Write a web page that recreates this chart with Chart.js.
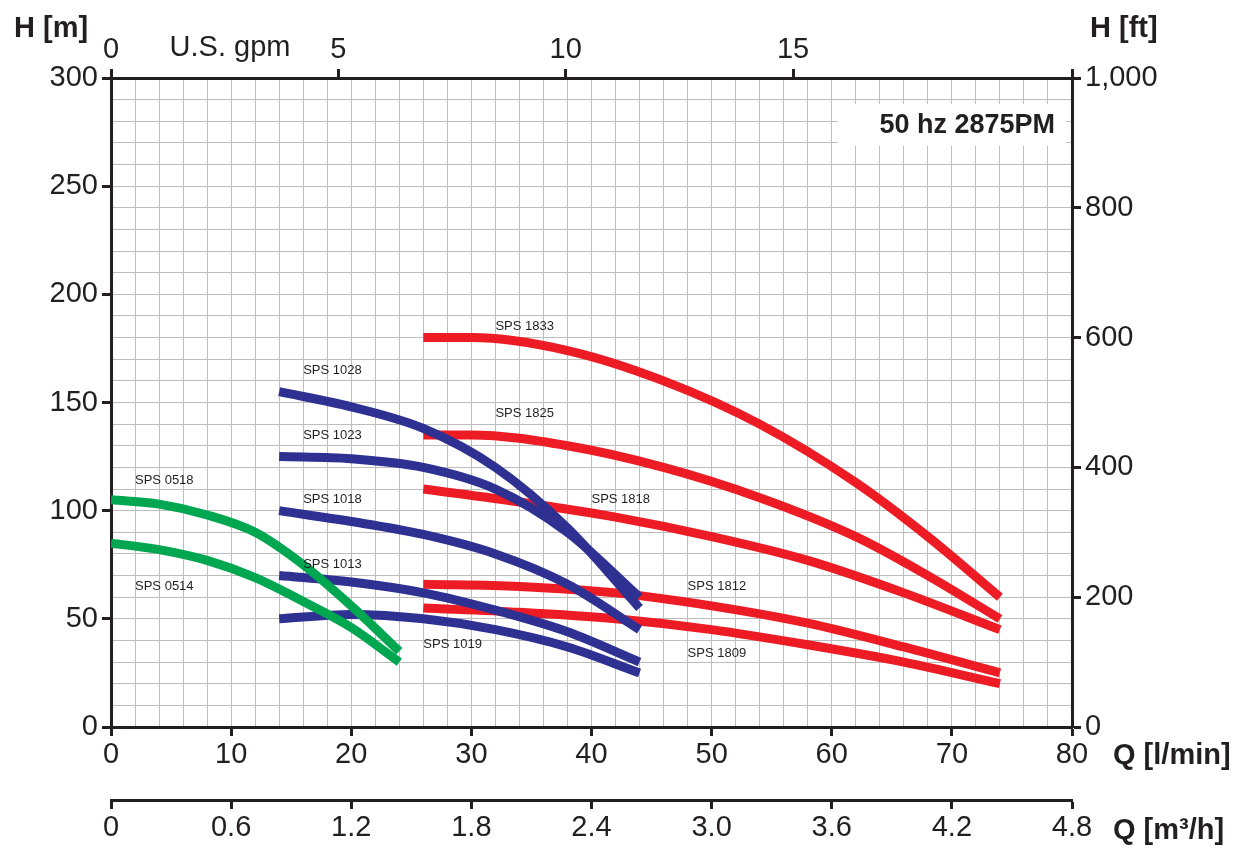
<!DOCTYPE html>
<html>
<head>
<meta charset="utf-8">
<script src="https://cdn.jsdelivr.net/npm/chart.js@4"></script>
<style>
  body { margin: 0; background: #fff; }
  canvas { display: block; }
</style>
</head>
<body>
<canvas id="c" width="1250" height="863"></canvas>
<script>
// flow in l/min, head in m
const q05 = [0, 4, 8, 12, 16, 20, 24];
const q10 = [14, 20, 26, 32, 38, 44];
const q18 = [26, 30, 38, 46, 54, 62, 68, 74];
const q18b = [26, 34, 42, 50, 58, 66, 74];

const h0518 = [105, 103, 98, 90, 75, 56, 35];
const h0514 = [85, 82, 77, 69, 58, 46, 30];
const h1028 = [155, 148, 138, 120, 92, 55];
const h1023 = [125, 124, 120, 110, 90, 60];
const h1018 = [100, 95, 89, 80, 66, 45];
const h1013 = [70, 67, 62, 54, 44, 30];
const h1019 = [50, 52, 50, 45, 37, 25];
const h1833 = [180, 180, 174, 160, 140, 113, 88, 60];
const h1825 = [135, 135, 130, 120, 106, 88, 70, 50];
const h1818 = [110, 104, 97, 88, 77, 62, 45];
const h1812 = [66, 65, 62, 56, 48, 37, 25];
const h1809 = [55, 53, 50, 45, 38, 30, 20];

// curve names with label anchor (Q, H)
const curveNames = ["SPS 0518", "SPS 0514", "SPS 1028", "SPS 1023", "SPS 1018", "SPS 1013", "SPS 1019",
                    "SPS 1833", "SPS 1825", "SPS 1818", "SPS 1812", "SPS 1809"];
const labelQ = [2, 2, 16, 16, 16, 16, 26, 32, 32, 40, 48, 48];
const labelH = [114, 65, 165, 135, 105, 75, 38, 185, 145, 105, 65, 34];

const GREEN = "#00a650", BLUE = "#2e3192", RED = "#ed1c24";
const FONT = "'Liberation Sans', Arial, sans-serif";
const INK = "#231f20";

const pts = (qs, hs) => qs.map((q, i) => ({ x: q, y: hs[i] }));
const ds = (qs, hs, color) => ({
    data: pts(qs, hs),
    borderColor: color,
    borderWidth: 9,
    pointRadius: 0,
    fill: false,
    cubicInterpolationMode: "monotone",
    borderCapStyle: "butt",
});

const datasets = [
    ds(q05, h0518, GREEN), ds(q05, h0514, GREEN),
    ds(q10, h1028, BLUE), ds(q10, h1023, BLUE), ds(q10, h1018, BLUE),
    ds(q10, h1013, BLUE), ds(q10, h1019, BLUE),
    ds(q18, h1833, RED), ds(q18, h1825, RED),
    ds(q18b, h1818, RED), ds(q18b, h1812, RED), ds(q18b, h1809, RED),
];

// ─── text overlay: curve names, axis titles, rpm box ───────────────
const Overlay = {
    id: "overlay",
    afterDatasetsDraw(chart) {
        const { ctx, scales } = chart;
        ctx.save();
        ctx.fillStyle = INK;
        ctx.font = "13px " + FONT;
        ctx.textAlign = "left";
        ctx.textBaseline = "middle";
        curveNames.forEach((n, i) => {
            ctx.fillText(n, scales.x.getPixelForValue(labelQ[i]), scales.y.getPixelForValue(labelH[i]));
        });

        ctx.fillStyle = "#fff";
        ctx.fillRect(838, 104, 228, 42);
        ctx.fillStyle = INK;
        ctx.font = "bold 27px " + FONT;
        ctx.textAlign = "right";
        ctx.fillText("50 hz 2875PM", 1055, 126);

        ctx.font = "bold 29px " + FONT;
        ctx.textAlign = "left";
        ctx.fillText("H [m]", 14, 29);
        ctx.fillText("H [ft]", 1090, 29);
        ctx.fillText("Q [l/min]", 1113, 756);
        ctx.fillText("Q [m\u00b3/h]", 1113, 831);

        ctx.font = "29px " + FONT;
        ctx.textAlign = "center";
        ctx.fillText("U.S. gpm", 230, 48);
        ctx.restore();
    },
};

const tickFont = { family: FONT, size: 29 };
const border = { color: INK, width: 3 };

new Chart(document.getElementById("c"), {
    type: "line",
    data: { datasets },
    plugins: [Overlay],
    options: {
        responsive: false,
        animation: false,
        devicePixelRatio: 1,
        layout: { padding: 0 },
        plugins: { legend: { display: false }, tooltip: { enabled: false } },
        scales: {
            x: {
                type: "linear", position: "bottom", min: 0, max: 80, weight: 0,
                border,
                grid: {
                    color: "#bdbdbd", lineWidth: 1, tickLength: 9,
                    tickColor: c => (c.tick && c.tick.value % 10 === 0 ? INK : "rgba(0,0,0,0)"),
                    tickWidth: 3,
                },
                ticks: {
                    stepSize: 2, autoSkip: false, maxRotation: 0, color: INK, font: tickFont, padding: 2,
                    callback: v => (v % 10 === 0 ? String(v) : ""),
                },
                afterFit: s => { s.height = 73; },
            },
            x3: {
                type: "linear", position: "bottom", min: 0, max: 4.8, weight: 1,
                border,
                grid: { drawOnChartArea: false, tickLength: 9, tickColor: INK, tickWidth: 3 },
                ticks: {
                    stepSize: 0.6, autoSkip: false, maxRotation: 0, color: INK, font: tickFont, padding: 2,
                    callback: v => (v === 0 ? "0" : v.toFixed(1)),
                },
                afterFit: s => { s.height = 63; },
            },
            x2: {
                type: "linear", position: "top", min: 0, max: 80 / 3.78541,
                border,
                grid: { drawOnChartArea: false, tickLength: 9, tickColor: INK, tickWidth: 3 },
                ticks: {
                    stepSize: 5, autoSkip: false, maxRotation: 0, color: INK, font: tickFont, padding: 2,
                    callback: v => (v % 5 === 0 ? String(v) : ""),
                },
                afterFit: s => { s.height = 78; },
            },
            y: {
                type: "linear", position: "left", min: 0, max: 300,
                border,
                grid: {
                    color: "#bdbdbd", lineWidth: 1, tickLength: 9,
                    tickColor: c => (c.tick && c.tick.value % 50 === 0 ? INK : "rgba(0,0,0,0)"),
                    tickWidth: 3,
                },
                ticks: {
                    stepSize: 10, autoSkip: false, color: INK, font: tickFont, padding: 4,
                    callback: v => (v % 50 === 0 ? String(v) : ""),
                },
                afterFit: s => { s.width = 111; },
            },
            y2: {
                type: "linear", position: "right", min: 0, max: 1000,
                border,
                grid: { drawOnChartArea: false, tickLength: 9, tickColor: INK, tickWidth: 3 },
                ticks: { stepSize: 200, autoSkip: false, color: INK, font: tickFont, padding: 4 },
                afterFit: s => { s.width = 178; },
            },
        },
    },
});
</script>
</body>
</html>
